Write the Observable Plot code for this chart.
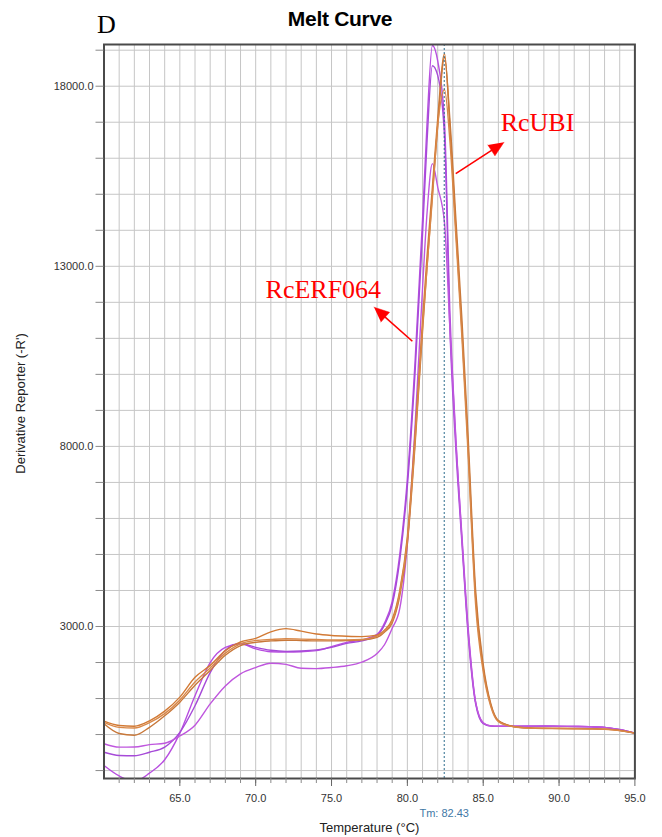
<!DOCTYPE html>
<html>
<head>
<meta charset="utf-8">
<script src="https://cdn.jsdelivr.net/npm/d3@7"></script>
<script src="https://cdn.jsdelivr.net/npm/@observablehq/plot@0.6"></script>
<style>
  body { margin: 0; background: #fff; }
  #wrap { position: relative; width: 662px; height: 837px; overflow: hidden; background: #fff; }
  #chart { position: absolute; left: 0; top: 0; }
  #chart svg { display: block; }
  #panel { position: absolute; left: 97px; top: 12px; font-family: "Liberation Serif", "Times New Roman", serif; font-size: 26px; line-height: 26px; color: #000; }
  #title { position: absolute; left: 240px; width: 200px; top: 8px; text-align: center; font-family: "Liberation Sans", Arial, sans-serif; font-weight: bold; font-size: 21px; line-height: 21px; color: #000; letter-spacing: -0.3px; }
</style>
</head>
<body>
<div id="wrap">
  <div id="chart"></div>
  <div id="panel">D</div>
  <div id="title">Melt Curve</div>
</div>
<script>
// ---- data (temperature in °C, derivative reporter -R') ----
const temps = [60,61,62,63,64,65,66,67,68,69,70,71,72,73,74,75,76,77,78,
  78.5,79,79.5,80,80.5,81,81.3,81.65,82,82.45,82.8,83.2,83.6,84,84.5,85,85.5,86,
  87,88,89,90,91,92,93,94,95];

const seriesNames = ["RcUBI-1","RcUBI-2","RcUBI-3","RcERF064-1","RcERF064-2","RcERF064-3"];

const rcUBI1 = [371,250,230,380,650,1040,1590,1920,2330,2570,2670,2850,2940,2870,2790,2750,2730,2720,2760,
  2900,3200,4000,5500,8300,11500,13300,15200,17100,18900,16900,14000,11200,8000,3800,1850,820,380,
  220,180,172,170,165,160,150,115,40];
const rcUBI2 = [300,30,-20,200,520,900,1370,1780,2200,2470,2560,2600,2620,2610,2600,2600,2610,2630,2700,
  2850,3100,3850,5300,8000,11200,13000,15000,16900,18800,17100,14300,11500,8300,4000,1950,860,390,
  225,185,175,172,168,162,150,112,40];
const rcUBI3 = [340,200,180,330,580,960,1460,1850,2260,2520,2610,2640,2660,2650,2640,2630,2630,2640,2730,
  2880,3150,3950,5400,8100,11300,13000,14900,16900,17900,16500,13800,11000,7800,3600,1750,780,360,
  215,178,170,168,163,158,148,110,40];
const rcERF1 = [-860,-1150,-1300,-1070,-700,40,1080,2000,2420,2520,2380,2300,2290,2300,2330,2440,2560,2630,2780,
  3100,3700,5000,7100,10300,14300,17000,19130,18700,17000,11800,8200,5500,3000,900,320,240,232,
  232,232,236,230,226,220,200,140,40];
const rcERF2 = [-490,-580,-590,-490,-350,60,800,1720,2340,2530,2420,2340,2310,2320,2350,2420,2530,2600,2750,
  3050,3600,4850,6900,10000,13900,16500,18570,18300,16600,11300,7900,5300,2800,850,300,235,228,
  228,230,234,228,224,218,198,138,40];
const rcERF3 = [-256,-350,-345,-280,-240,-40,260,850,1350,1686,1860,1980,1950,1840,1830,1860,1910,2010,2250,
  2500,2950,3500,5300,8500,12400,14500,15850,15200,14200,11300,8100,5400,2900,900,330,240,230,
  230,230,233,228,224,218,198,138,40];

const tmValue = [82.43];

const yLabeledTicks = [3000, 8000, 13000, 18000];
const xLabeledTicks = [65, 70, 75, 80, 85, 90, 95];

// annotations (data units)
const annotLabels = ["RcUBI", "RcERF064"];
const annotT = [86.15, 70.65];
const annotV = [16770, 12130];
const arrowTailT = [83.19, 80.33];
const arrowTailV = [15575, 10920];
const arrowTipT = [86.37, 77.8];
const arrowTipV = [16444, 11864];

// ---- layout / style ----
const W = 662, H = 837;
const mL = 103.5, mR = 27.6, mT = 44, mB = 59;
const xDomain = [60, 95], yDomain = [-1220, 19158];
const seriesColors = ["#d27a35", "#c8783a", "#d98848", "#b84fe0", "#a64ad8", "#bf56de"];

const allSeries = [rcUBI1, rcUBI2, rcUBI3, rcERF1, rcERF2, rcERF3];
const rows = [];
// draw purple first, orange on top
[3,4,5,0,1,2].forEach(i => {
  temps.forEach((t, j) => rows.push({t, v: allSeries[i][j], s: seriesNames[i]}));
});

const xs = d3.scaleLinear(xDomain, [mL, W - mR]);
const ys = d3.scaleLinear(yDomain, [H - mB, mT]);

const annots = annotLabels.map((l, i) => ({label: l, t: annotT[i], v: annotV[i]}));
const shafts = [];
const heads = [];
annotLabels.forEach((l, i) => {
  const x0 = xs(arrowTailT[i]), y0 = ys(arrowTailV[i]);
  const x1 = xs(arrowTipT[i]), y1 = ys(arrowTipV[i]);
  const len = Math.hypot(x1 - x0, y1 - y0);
  const ux = (x1 - x0) / len, uy = (y1 - y0) / len;
  const hl = 15, hw = 6.5;
  const bx = x1 - ux * hl, by = y1 - uy * hl;
  shafts.push({x1: arrowTailT[i], y1: arrowTailV[i], x2: xs.invert(bx + ux * 2), y2: ys.invert(by + uy * 2)});
  const pts = [[x1, y1], [bx - uy * hw, by + ux * hw], [bx + uy * hw, by - ux * hw]];
  pts.forEach(p => heads.push({id: l, t: xs.invert(p[0]), v: ys.invert(p[1])}));
});

const chart = Plot.plot({
  width: W, height: H,
  marginLeft: mL, marginRight: mR, marginTop: mT, marginBottom: mB,
  x: {domain: xDomain},
  y: {domain: yDomain},
  color: {domain: seriesNames, range: seriesColors},
  style: {fontFamily: "'Liberation Sans', Arial, sans-serif", fontSize: "11px", color: "#333", background: "transparent"},
  marks: [
    Plot.ruleX(d3.range(61, 95), {stroke: "#c6c6c6", strokeWidth: 1}),
    Plot.ruleY(d3.range(-1000, 19001, 1000), {stroke: "#c6c6c6", strokeWidth: 1}),
    Plot.line(rows, {x: "t", y: "v", z: "s", stroke: "s", strokeWidth: 1.4, curve: "monotone-x", clip: true}),
    Plot.ruleX(tmValue, {stroke: "#2c6b8c", strokeWidth: 1, strokeDasharray: "2,2"}),
    Plot.frame({stroke: "#4a4a4a", strokeWidth: 2}),
    Plot.axisY({ticks: d3.range(-1000, 19001, 1000), tickSize: 8, tickPadding: 2.5, stroke: "#8a8a8a",
      tickFormat: d => yLabeledTicks.includes(d) ? d.toFixed(1) : "", label: null, fill: "#333"}),
    Plot.axisX({ticks: d3.range(61, 95), tickSize: 5, stroke: "#8a8a8a", tickFormat: () => "", label: null}),
    Plot.axisX({ticks: xLabeledTicks, tickSize: 8, tickPadding: 8, stroke: "#666",
      tickFormat: d => d.toFixed(1), label: null, fill: "#333"}),
    Plot.text(["Derivative Reporter (-R')"], {frameAnchor: "left", dx: -83, dy: -8, rotate: -90,
      textAnchor: "middle", lineAnchor: "middle", fontSize: 13, fill: "#222"}),
    Plot.text(["Temperature (°C)"], {frameAnchor: "bottom", dy: 49, textAnchor: "middle", lineAnchor: "middle",
      fontSize: 13, fill: "#222"}),
    Plot.text(tmValue, {x: d => d, frameAnchor: "bottom", dy: 35, text: d => `Tm: ${d}`,
      textAnchor: "middle", lineAnchor: "middle", fontSize: 11, fill: "#3f78a6"}),
    Plot.link(shafts, {x1: "x1", y1: "y1", x2: "x2", y2: "y2", stroke: "red", strokeWidth: 1.6}),
    Plot.line(heads, {x: "t", y: "v", z: "id", fill: "red", stroke: "red", strokeWidth: 0.5}),
    Plot.text(annots, {x: "t", y: "v", text: "label", textAnchor: "start", lineAnchor: "bottom",
      fill: "red", fontSize: 26, fontFamily: "'Liberation Serif', 'Times New Roman', serif"})
  ]
});
document.getElementById("chart").appendChild(chart);
</script>
</body>
</html>
